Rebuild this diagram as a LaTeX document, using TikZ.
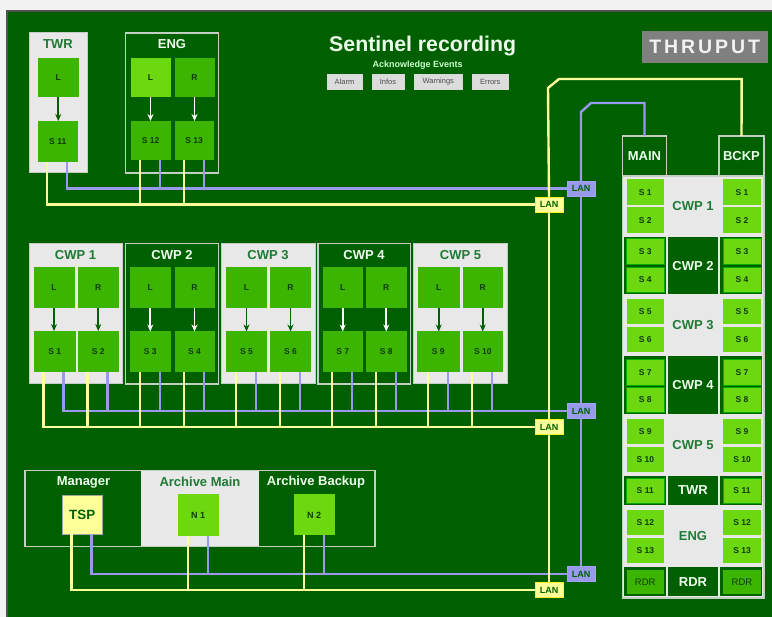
\documentclass[tikz,border=0pt]{standalone}
\usepackage{fontspec}
\setmainfont{Liberation Sans}
\usetikzlibrary{arrows.meta}
\definecolor{bgreen}{HTML}{006000}
\definecolor{bright}{HTML}{6CD80F}
\definecolor{midg}{HTML}{3CB500}
\definecolor{lightg}{HTML}{E8E8E8}
\definecolor{edgeg}{HTML}{C4CFC4}
\definecolor{wirey}{HTML}{FFFF99}
\definecolor{wireb}{HTML}{9999EE}
\definecolor{titleg}{HTML}{1F7A35}
\definecolor{celltxt}{HTML}{123A00}
\newcommand{\fs}[1]{\fontsize{#1pt}{#1pt}\selectfont}
% \bx{name}{x0}{y0}{x1}{y1}{style}{label}
\newcommand{\bx}[7]{%
  \pgfmathsetmacro{\bxcx}{(#2+#4)/2}%
  \pgfmathsetmacro{\bxcy}{(#3+#5)/2}%
  \pgfmathsetmacro{\bxw}{#4-#2}%
  \pgfmathsetmacro{\bxh}{#5-#3}%
  \node[#6,minimum width=\bxw pt,minimum height=\bxh pt] (#1) at (\bxcx,\bxcy) {#7};}
\newcommand{\wire}[4]{\draw[#4] (#1,0 |- #2.south) |- (#3.west);}
\newcommand{\flow}[2]{\draw[#2] (#1.south) -- (#1.south |- #1S.north);}
\tikzset{
  x=1pt,y=-1pt,
  base/.style={inner sep=0pt,outer sep=0pt,align=center},
  grplight/.style={base,fill=lightg,draw=edgeg,line width=1pt},
  grpdark/.style={base,fill=bgreen,draw=edgeg,line width=1.6pt},
  ttl/.style={inner sep=0pt,font=\fs{13}\bfseries},
  ttllight/.style={ttl,text=titleg},
  ttldark/.style={ttl,text=white!94!green},
  mid/.style={base,fill=midg,text=celltxt,font=\fs{8.5}\bfseries},
  brt/.style={base,fill=bright,text=celltxt,font=\fs{8.5}\bfseries},
  cellb/.style={brt,draw=green!45!bgreen,line width=0.8pt},
  yw/.style={draw=wirey,line width=2.4pt},
  bw/.style={draw=wireb,line width=2.4pt},
  lany/.style={base,fill=wirey,draw=yellow!85!white,line width=0.8pt,text=bgreen,font=\fs{9}\bfseries},
  lanb/.style={base,fill=wireb,draw=wireb!90!white,line width=0.8pt,text=bgreen,font=\fs{9}\bfseries},
  arrd/.style={line width=1.8pt,draw=bgreen,-{Stealth[length=7pt,width=6pt]}},
  arrw/.style={line width=1.8pt,draw=white,-{Stealth[length=7pt,width=6pt]}},
  btn/.style={base,fill=lightg!95!black,draw=white!70!gray,line width=0.6pt,text=black!70,font=\fs{7.5}},
  darkcell/.style={base,fill=bgreen},
}
\begin{document}
\begin{tikzpicture}
\useasboundingbox (0,0) rectangle (772,617);
\fill[white!95!black] (0,0) rectangle (772,617);
\fill[black!68] (6,10) rectangle (772,617);
\fill[bgreen] (8,12) rectangle (772,617);

% header
\node[inner sep=0pt,font=\fs{21.3}\bfseries,text=white!92!green] (title) at (422.7,46) {Sentinel recording};
\node[inner sep=0pt,font=\fs{9}\bfseries,text=white!80!green] (ack) at (417.7,65) {Acknowledge Events};
\bx{bAlarm}{327}{74.5}{362}{89}{btn}{Alarm}
\bx{bInfos}{372}{74.5}{404}{89}{btn}{Infos}
\bx{bWarn}{414.5}{74.5}{462}{89}{btn}{Warnings}
\bx{bErr}{472.5}{74.5}{508}{89}{btn}{Errors}
\bx{thru}{642}{31}{767.5}{63}{base,fill=black!50,text=white!95!black,font=\fs{19.5}\bfseries\addfontfeature{LetterSpace=15}}{THRUPUT}

% TWR / ENG groups
\bx{gTWR}{29}{33}{87}{173}{grplight}{}
\node[ttllight] (tTWR) at (58,44.5) {TWR};
\bx{twrL}{37.5}{58}{79}{97}{mid}{L}
\bx{twrLS}{37.5}{121}{78}{162}{mid}{S 11}
\flow{twrL}{arrd}
\bx{gENG}{125.5}{33}{218.5}{173}{grpdark}{}
\node[ttldark] (tENG) at (172,44.5) {ENG};
\bx{engL}{130.5}{58}{170.5}{97}{brt}{L}
\bx{engR}{174.5}{58}{214.5}{97}{mid}{R}
\bx{engLS}{130.5}{121}{170.5}{160.5}{mid}{S 12}
\bx{engRS}{174.5}{121}{213.5}{160.5}{mid}{S 13}
\flow{engL}{arrw}\flow{engR}{arrw}

% CWP groups
\bx{gC1}{29}{243.5}{122.5}{384}{grplight}{}
\node[ttllight] (tC1) at (75.5,255.5) {CWP 1};
\bx{c1L}{33.5}{267.5}{74.5}{308.5}{mid}{L}
\bx{c1R}{78}{267.5}{118.5}{308.5}{mid}{R}
\bx{c1LS}{33.5}{331}{76}{372.5}{mid}{S 1}
\bx{c1RS}{78}{331}{118.5}{372.5}{mid}{S 2}
\flow{c1L}{arrd}\flow{c1R}{arrd}
\bx{gC2}{125.5}{243.5}{218.5}{384}{grpdark}{}
\node[ttldark] (tC2) at (172,255.5) {CWP 2};
\bx{c2L}{130}{267.5}{170.5}{308}{mid}{L}
\bx{c2R}{174.5}{267.5}{214.5}{308}{mid}{R}
\bx{c2LS}{130}{331.5}{170.5}{372}{mid}{S 3}
\bx{c2RS}{174.5}{331.5}{214.5}{372}{mid}{S 4}
\flow{c2L}{arrw}\flow{c2R}{arrw}
\bx{gC3}{221.5}{243.5}{315}{384}{grplight}{}
\node[ttllight] (tC3) at (268,255.5) {CWP 3};
\bx{c3L}{226}{267.5}{267}{308}{mid}{L}
\bx{c3R}{270}{267.5}{311}{308}{mid}{R}
\bx{c3LS}{226}{331.5}{267}{372.5}{mid}{S 5}
\bx{c3RS}{270}{331.5}{311}{372.5}{mid}{S 6}
\flow{c3L}{arrd}\flow{c3R}{arrd}
\bx{gC4}{318}{243.5}{410.5}{384}{grpdark}{}
\node[ttldark] (tC4) at (364,255.5) {CWP 4};
\bx{c4L}{322.5}{267.5}{363}{308}{mid}{L}
\bx{c4R}{366}{267.5}{406.5}{308}{mid}{R}
\bx{c4LS}{322.5}{331.5}{363}{372}{mid}{S 7}
\bx{c4RS}{366}{331.5}{406.5}{372}{mid}{S 8}
\flow{c4L}{arrw}\flow{c4R}{arrw}
\bx{gC5}{413.5}{243.5}{507.5}{384}{grplight}{}
\node[ttllight] (tC5) at (460.5,255.5) {CWP 5};
\bx{c5L}{418}{267.5}{459.5}{308}{mid}{L}
\bx{c5R}{462.5}{267.5}{503}{308}{mid}{R}
\bx{c5LS}{417}{331.5}{459.5}{372.5}{mid}{S 9}
\bx{c5RS}{462.5}{331.5}{503}{372.5}{mid}{S 10}
\flow{c5L}{arrd}\flow{c5R}{arrd}

% bottom group
\bx{gMgr}{25}{470.5}{375}{546.5}{grpdark}{}
\bx{gAM}{141}{471.3}{259}{545.7}{base,fill=lightg}{}
\node[ttldark] (tMgr) at (83.5,482) {Manager};
\node[ttllight] (tAM) at (200,482) {Archive Main};
\node[ttldark] (tAB) at (316,482) {Archive Backup};
\bx{tsp}{62.5}{495}{102}{534}{base,fill=wirey,draw=black!35,line width=0.5pt,text=bgreen,font=\fs{13.4}\bfseries}{TSP}
\bx{n1}{177.5}{494.5}{219}{536}{brt,font=\fs{9}\bfseries}{N 1}
\bx{n2}{293.5}{494.5}{335}{535.5}{brt,font=\fs{9}\bfseries}{N 2}

% LAN hubs
\bx{lanB1}{567}{181}{595}{196}{lanb}{LAN}
\bx{lanY1}{535}{197}{563}{212}{lany}{LAN}
\bx{lanB2}{567}{403.5}{595}{418.5}{lanb}{LAN}
\bx{lanY2}{535}{419.5}{563}{434.5}{lany}{LAN}
\bx{lanB3}{567}{566.5}{595}{581.5}{lanb}{LAN}
\bx{lanY3}{535}{582.5}{563}{597.5}{lany}{LAN}

% recording table
\bx{main}{622.5}{136}{666.5}{176}{grpdark,text=white!92!green,font=\fs{13}\bfseries}{MAIN}
\bx{bckp}{719}{136}{764}{176}{grpdark,text=white!92!green,font=\fs{13}\bfseries}{BCKP}
\bx{tbl}{622.5}{176}{764}{598}{base,fill=lightg,draw=edgeg,line width=1.4pt}{}
\foreach \nm/\a/\b in {r2/237/294.5,r4/356.5/414,r6/476/505.5,r8/567.5/596.5}{
  \bx{\nm a}{624}{\a}{665.5}{\b}{darkcell}{}
  \bx{\nm b}{668}{\a}{717.7}{\b}{darkcell}{}
  \bx{\nm c}{720.3}{\a}{761.7}{\b}{darkcell}{}
}
\foreach \t/\y/\st in {CWP 1/206/ttllight,CWP 2/266/ttldark,CWP 3/325.5/ttllight,CWP 4/385/ttldark,CWP 5/445/ttllight,TWR/490.5/ttldark,ENG/536/ttllight,RDR/582/ttldark}{
  \node[\st] at (693,\y) {\t};
}
\foreach \i/\a/\b/\lab/\st in {
  1/179.5/205.5/S 1/brt,2/207.5/233/S 2/brt,
  3/238.5/264.5/S 3/cellb,4/267/292/S 4/cellb,
  5/299/324/S 5/brt,6/327/352/S 6/brt,
  7/359.5/385/S 7/cellb,8/387.5/412/S 8/cellb,
  9/419/444/S 9/brt,10/447/472/S 10/brt,
  11/478.5/503/S 11/cellb,
  12/510/535/S 12/brt,13/538/563/S 13/brt}{
  \bx{m\i}{626.5}{\a}{664}{\b}{\st}{\lab}
  \bx{k\i}{723}{\a}{761}{\b}{\st}{\lab}
}
\bx{mR}{626.5}{570}{664}{594}{mid,font=\fs{9.5}}{RDR}
\bx{kR}{723}{570}{761}{594}{mid,font=\fs{9.5}}{RDR}

% waypoints of the two trunks
\coordinate (ya) at (548,88);
\coordinate (yb) at (559,79);
\coordinate (yc) at (741.7,79);
\coordinate (ba) at (581,112);
\coordinate (bb) at (591,103);
\coordinate (bc) at (644.5,103);

% blue network
\wire{67}{twrLS}{lanB1}{bw}
\wire{160}{engLS}{lanB1}{bw}
\wire{204}{engRS}{lanB1}{bw}
\wire{63.5}{c1LS}{lanB2}{bw}
\wire{107.5}{c1RS}{lanB2}{bw}
\wire{160}{c2LS}{lanB2}{bw}
\wire{204}{c2RS}{lanB2}{bw}
\wire{256}{c3LS}{lanB2}{bw}
\wire{300}{c3RS}{lanB2}{bw}
\wire{352}{c4LS}{lanB2}{bw}
\wire{396}{c4RS}{lanB2}{bw}
\wire{448}{c5LS}{lanB2}{bw}
\wire{492}{c5RS}{lanB2}{bw}
\wire{91.5}{tsp}{lanB3}{bw}
\wire{208}{n1}{lanB3}{bw}
\wire{324}{n2}{lanB3}{bw}
\draw[bw] (lanB3.north) -- (lanB2.south);
\draw[bw] (lanB2.north) -- (lanB1.south);
\draw[bw] (lanB1.north) -- (ba) -- (bb) -- (bc) -- (main.north);

% yellow network
\wire{47}{twrLS}{lanY1}{yw}
\wire{140}{engLS}{lanY1}{yw}
\wire{184}{engRS}{lanY1}{yw}
\wire{43.5}{c1LS}{lanY2}{yw}
\wire{87.5}{c1RS}{lanY2}{yw}
\wire{140}{c2LS}{lanY2}{yw}
\wire{184}{c2RS}{lanY2}{yw}
\wire{236}{c3LS}{lanY2}{yw}
\wire{280}{c3RS}{lanY2}{yw}
\wire{332}{c4LS}{lanY2}{yw}
\wire{376}{c4RS}{lanY2}{yw}
\wire{428}{c5LS}{lanY2}{yw}
\wire{472}{c5RS}{lanY2}{yw}
\wire{71.5}{tsp}{lanY3}{yw}
\wire{188}{n1}{lanY3}{yw}
\wire{304}{n2}{lanY3}{yw}
\draw[yw] (lanY3.north) -- (lanY2.south);
\draw[yw] (lanY2.north) -- (lanY1.south);
\draw[yw] (lanY1.north) -- (ya) -- (yb) -- (yc) -- (bckp.north);
\end{tikzpicture}
\end{document}
